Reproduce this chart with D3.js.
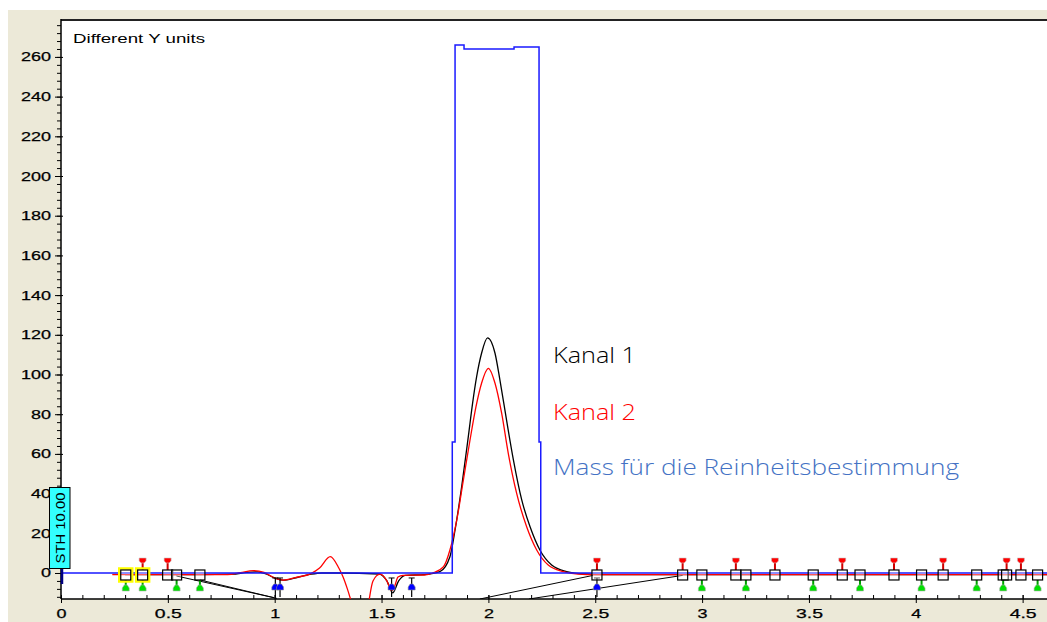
<!DOCTYPE html>
<html><head><meta charset="utf-8">
<script src="https://cdn.jsdelivr.net/npm/d3@7"></script>
<style>
html,body{margin:0;padding:0;background:#fff;}
svg{display:block;}
</style></head>
<body>
<svg id="chart" width="1047" height="622"></svg>
<script>
// ---- data ----
const xDomain = [0, 4.614];
const yDomain = [-13.1, 278.6];
const xMajorTicks = [0, 0.5, 1, 1.5, 2, 2.5, 3, 3.5, 4, 4.5];
const xTickLabels = ["0", "0.5", "1", "1.5", "2", "2.5", "3", "3.5", "4", "4.5"];
const yMajorTicks = [0, 20, 40, 60, 80, 100, 120, 140, 160, 180, 200, 220, 240, 260];
const yTickLabels = ["0", "20", "40", "60", "80", "100", "120", "140", "160", "180", "200", "220", "240", "260"];

// Kanal 1 (black)
const kanal1 = [[0.3,-0.8],[0.65,-0.8],[0.8,-0.6],[0.87,0.3],[0.92,0.6],[0.96,-0.5],[1.0,-2.5],[1.04,-3.6],[1.1,-2.4],[1.17,-0.6],[1.22,0],[1.3,0],[1.49,-0.5],[1.525,-4],[1.552,-10],[1.58,-4],[1.61,-1.2],[1.7,-0.8],[1.773,0.7],[1.82,8.2],[1.844,21.7],[1.875,43.5],[1.906,68.7],[1.926,85.5],[1.945,98.9],[1.968,110.7],[1.996,118.5],[2.031,110.7],[2.054,97.2],[2.085,77],[2.117,57],[2.156,36.8],[2.195,23.3],[2.241,11.6],[2.296,4],[2.366,0.7],[2.45,-0.5],[2.55,-0.8],[4.62,-0.8]];
// Kanal 2 (red), null = gap where the trace leaves the plot
const kanal2 = [[0.24,-0.8],[0.78,-0.8],[0.84,0.2],[0.9,1.2],[0.95,0.3],[1.0,-2.5],[1.04,-3.6],[1.1,-2.2],[1.17,-0.3],[1.21,2.5],[1.26,8.2],[1.3,2.5],[1.32,-2],[1.34,-8],[1.36,-15],null,[1.44,-15],[1.46,-4],[1.493,-0.6],[1.525,-4],[1.547,-9],[1.56,-7],[1.577,-2],[1.6,-1.2],[1.7,-1],[1.74,0],[1.79,3.2],[1.82,11.6],[1.852,26.7],[1.883,46.9],[1.914,67],[1.942,83.8],[1.968,95.6],[2.0,103.1],[2.031,95.6],[2.062,80.5],[2.093,60.3],[2.132,40.2],[2.179,23.3],[2.226,11.6],[2.28,4],[2.35,0.7],[2.42,-0.5],[2.5,-0.8],[4.62,-0.8]];
// Mass für die Reinheitsbestimmung (blue)
const mass = [[0,0],[1.831,0],[1.831,66],[1.844,66],[1.844,266],[1.886,266],[1.886,264],[2.12,264],[2.12,265],[2.237,265],[2.237,66],[2.245,66],[2.245,0],[4.62,0]];
// integration baselines
const baselineSegs = [[[0.54,-1.5],[0.995,-12.4]],[[0.65,-3.5],[1.01,-12.8]],[[1.96,-13.1],[2.49,-1.2]],[[2.19,-13.1],[2.909,-1.2]]];
// peak markers
const markerLevel = -1;
const squareX = [0.303,0.382,0.499,0.541,0.65,2.508,2.909,2.999,3.158,3.205,3.341,3.52,3.656,3.739,3.898,4.027,4.128,4.285,4.409,4.425,4.492,4.57];
const highlightedX = [0.303,0.382];
const redMarkX = [0.382,0.499,2.508,2.909,3.158,3.341,3.656,3.898,4.128,4.425,4.492];
const greenMarkX = [0.303,0.382,0.541,0.65,2.999,3.205,3.52,3.739,4.027,4.285,4.409,4.57];
const blueMarkX = [1.003,1.025,1.547,1.641,2.508];
const seriesLabels = ["Kanal 1","Kanal 2","Mass für die Reinheitsbestimmung"];
const seriesColors = ["#000000","#ff0000","#4472c4"];
const cornerNote = "Different Y units";
const sthLabel = "STH 10.00";

// ---- drawing ----
const W = 1047, H = 622;
const plot = {left: 61, right: 1047, top: 20, bottom: 599};
const svg = d3.select("#chart");
const x = d3.scaleLinear().domain(xDomain).range([plot.left, plot.right]);
const y = d3.scaleLinear().domain(yDomain).range([plot.bottom, plot.top]);

svg.append("rect").attr("x",0).attr("y",0).attr("width",W).attr("height",H).attr("fill","#ffffff");
svg.append("rect").attr("x",8).attr("y",10).attr("width",W-8).attr("height",H-10).attr("fill","#ece9d8");
svg.append("rect").attr("x",plot.left).attr("y",plot.top).attr("width",plot.right-plot.left).attr("height",plot.bottom-plot.top).attr("fill","#ffffff");

svg.append("clipPath").attr("id","clip").append("rect")
  .attr("x",plot.left).attr("y",plot.top).attr("width",plot.right-plot.left).attr("height",plot.bottom-plot.top);

const tickFont = "'Liberation Sans', Arial, sans-serif";
function labelWidth(s){ let w=0; for(const c of s){ w += (c==='.')?7:10; } return w; }

// y axis minor ticks
svg.append("g").attr("transform",`translate(${plot.left},0)`)
  .call(d3.axisLeft(y).tickValues(d3.range(-12, 277, 4)).tickSize(4).tickFormat(""))
  .call(g=>g.select(".domain").remove())
  .selectAll("line").attr("stroke","#000");
// y axis major ticks + labels
const yAx = svg.append("g").attr("transform",`translate(${plot.left},0)`)
  .call(d3.axisLeft(y).tickValues(yMajorTicks).tickSize(6).tickPadding(4).tickFormat((d,i)=>yTickLabels[i]))
  .call(g=>g.select(".domain").remove());
yAx.selectAll("line").attr("stroke","#000").attr("x2",-6).attr("x1",2);
yAx.selectAll("text").attr("font-family",tickFont).attr("font-size","12.5px").attr("fill","#000")
  .attr("stroke","#000").attr("stroke-width",0.25)
  .attr("textLength",function(){return labelWidth(this.textContent);}).attr("lengthAdjust","spacingAndGlyphs");

// x axis minor ticks (inside)
svg.append("g").attr("transform",`translate(0,${plot.bottom})`)
  .call(d3.axisTop(x).tickValues(d3.range(0, 46).map(i=>i/10)).tickSize(4).tickFormat(""))
  .call(g=>g.select(".domain").remove())
  .selectAll("line").attr("stroke","#000");
// x axis major ticks + labels
const xAx = svg.append("g").attr("transform",`translate(0,${plot.bottom})`)
  .call(d3.axisBottom(x).tickValues(xMajorTicks).tickSize(4).tickFormat((d,i)=>xTickLabels[i]))
  .call(g=>g.select(".domain").remove());
xAx.selectAll("line").attr("stroke","#000").attr("y1",-4).attr("y2",4);
xAx.selectAll("text").attr("y",19).attr("dy",null).attr("font-family",tickFont).attr("font-size","12.5px").attr("fill","#000")
  .attr("stroke","#000").attr("stroke-width",0.25)
  .attr("textLength",function(){return labelWidth(this.textContent);}).attr("lengthAdjust","spacingAndGlyphs");

// frame
svg.append("line").attr("x1",plot.left).attr("x2",plot.right).attr("y1",plot.top).attr("y2",plot.top).attr("stroke","#222").attr("stroke-width",2);
svg.append("line").attr("x1",plot.left).attr("x2",plot.left).attr("y1",plot.top-1).attr("y2",plot.bottom).attr("stroke","#000").attr("stroke-width",1.5);
svg.append("line").attr("x1",plot.left).attr("x2",plot.right).attr("y1",plot.bottom).attr("y2",plot.bottom).attr("stroke","#000").attr("stroke-width",1.5);

// corner note
svg.append("text").attr("x",73).attr("y",43).text(cornerNote)
  .attr("font-family",tickFont).attr("font-size","12.5px").attr("fill","#000")
  .attr("textLength",132).attr("lengthAdjust","spacingAndGlyphs");

const layer = svg.append("g").attr("clip-path","url(#clip)");

// integration baselines
layer.selectAll("line.base").data(baselineSegs).join("line").attr("class","base")
  .attr("x1",d=>x(d[0][0])).attr("y1",d=>y(d[0][1])).attr("x2",d=>x(d[1][0])).attr("y2",d=>y(d[1][1]))
  .attr("stroke","#000").attr("stroke-width",1);

const smooth = d3.line().defined(d=>d!==null).x(d=>x(d[0])).y(d=>y(d[1])).curve(d3.curveMonotoneX);
const straight = d3.line().x(d=>x(d[0])).y(d=>y(d[1]));

layer.append("path").attr("d",smooth(kanal1)).attr("fill","none").attr("stroke","#000").attr("stroke-width",1.3);
layer.append("path").attr("d",smooth(kanal2)).attr("fill","none").attr("stroke","#ff0000").attr("stroke-width",1.3);
layer.append("path").attr("d",straight(mass)).attr("fill","none").attr("stroke","#1a1aff").attr("stroke-width",1.5);

// markers
const y0 = y(markerLevel);
const red = layer.selectAll("g.red").data(redMarkX).join("g").attr("class","red").attr("transform",d=>`translate(${x(d)},${y0})`);
red.append("line").attr("x1",0).attr("x2",0).attr("y1",-5).attr("y2",-13).attr("stroke","#d00000").attr("stroke-width",2);
red.append("path").attr("d","M-3.5,-17 L3.5,-17 L3.5,-14 L1.5,-12 L-1.5,-12 L-3.5,-14 Z").attr("fill","#ff0000").attr("stroke","#c8c8c8").attr("stroke-width",0.6);

const green = layer.selectAll("g.green").data(greenMarkX).join("g").attr("class","green").attr("transform",d=>`translate(${x(d)},${y0})`);
green.append("line").attr("x1",0).attr("x2",0).attr("y1",5).attr("y2",11).attr("stroke","#00a000").attr("stroke-width",2);
green.append("path").attr("d","M-1.5,10 L1.5,10 L3.5,13 L3.5,16 L-3.5,16 L-3.5,13 Z").attr("fill","#00e000").attr("stroke","#b0b0b0").attr("stroke-width",0.6);

const blue = layer.selectAll("g.blue").data(blueMarkX).join("g").attr("class","blue").attr("transform",d=>`translate(${x(d)},${y0})`);
blue.append("line").attr("x1",0).attr("x2",0).attr("y1",3).attr("y2",22).attr("stroke","#000").attr("stroke-width",1.2);
blue.append("line").attr("x1",-3).attr("x2",3).attr("y1",3).attr("y2",3).attr("stroke","#000").attr("stroke-width",1);
blue.append("path").attr("d","M-1.5,9 L1.5,9 L3.5,12 L3.5,15 L-3.5,15 L-3.5,12 Z").attr("fill","#0000ff").attr("stroke","#909090").attr("stroke-width",0.6);

layer.selectAll("rect.hl").data(highlightedX).join("rect").attr("class","hl")
  .attr("x",d=>x(d)-6.5).attr("y",y0-6.5).attr("width",13).attr("height",13)
  .attr("fill","none").attr("stroke","#ffff00").attr("stroke-width",2.5);
layer.selectAll("rect.sq").data(squareX).join("rect").attr("class","sq")
  .attr("x",d=>x(d)-5).attr("y",y0-5).attr("width",10).attr("height",10)
  .attr("fill","#ffffff").attr("fill-opacity",0.35).attr("stroke","#000").attr("stroke-width",1.2);

// STH marker at x=0
svg.append("line").attr("x1",x(0)+1).attr("x2",x(0)+1).attr("y1",y(markerLevel)-6).attr("y2",y(markerLevel)+9)
  .attr("stroke","#000080").attr("stroke-width",2.5);
svg.append("rect").attr("x",49.5).attr("y",487.5).attr("width",20.5).attr("height",81)
  .attr("fill","#33ffff").attr("stroke","#000").attr("stroke-width",1);
svg.append("text").attr("transform","translate(64.5,528) rotate(-90)").attr("text-anchor","middle")
  .text(sthLabel).attr("font-family",tickFont).attr("font-size","12px").attr("fill","#000")
  .attr("textLength",71).attr("lengthAdjust","spacingAndGlyphs");

// series labels
const labelY = [363, 420, 475];
const labelW = [83, 83, 406];
svg.selectAll("text.series").data(seriesLabels).join("text").attr("class","series")
  .attr("x",553).attr("y",(d,i)=>labelY[i]).text(d=>d)
  .attr("font-family","'Open Sans', 'Noto Sans', sans-serif").attr("font-weight",300).attr("font-size","22px")
  .attr("fill",(d,i)=>seriesColors[i])
  .attr("textLength",(d,i)=>labelW[i]).attr("lengthAdjust","spacingAndGlyphs");
</script>
</body></html>
